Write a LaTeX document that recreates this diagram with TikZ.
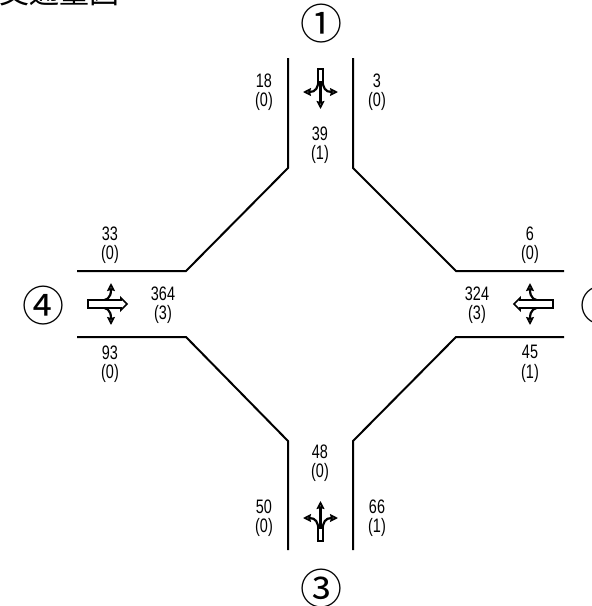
\documentclass[tikz,border=0pt]{standalone}
\usepackage{fontspec}
\usetikzlibrary{arrows.meta}
\newfontfamily\countfont[FakeStretch=0.74]{Liberation Sans}
\newfontfamily\cjkfont{Noto Sans CJK JP}
\tikzset{
  roadline/.style={line width=2pt, line join=miter},
  countlabel/.style={align=center, inner sep=0pt, font=\countfont\fontsize{19.5}{19.5}\selectfont},
  armlabel/.style={inner sep=0pt, font=\cjkfont\fontsize{42}{42}\selectfont},
  titlelabel/.style={anchor=base west, inner sep=0pt, font=\cjkfont\fontsize{30}{30}\selectfont},
  turnarrow/.style={line width=2.2pt, -{Stealth[length=8pt,width=8pt,inset=1pt,fill=white,line width=1.8pt]}},
  lanebox/.style={line width=1.7pt, fill=white, line join=miter},
  % origin at the tail of the mark, pointing along +x
  lanethin/.pic={
    \draw[turnarrow] (12,0) -- (40,0);
    \draw[turnarrow] (10,2) .. controls (19,2) and (23,5) .. (23,17.5);
    \draw[turnarrow] (10,-2) .. controls (19,-2) and (23,-5) .. (23,-17.5);
    \draw[lanebox] (0,-2.7) rectangle (13,2.7);
  },
  lanewide/.pic={
    \draw[turnarrow] (10,3) .. controls (19,3) and (23,6) .. (23,21);
    \draw[turnarrow] (10,-3) .. controls (19,-3) and (23,-6) .. (23,-21);
    \draw[lanebox] (0,-4) -- (33,-4) -- (33,-6) -- (39,0) -- (33,6) -- (33,4) -- (0,4) -- cycle;
  },
}
\begin{document}
\begin{tikzpicture}[x=1pt, y=-1pt]
  \useasboundingbox (0,0) rectangle (592,606);

  \node[titlelabel] (title) at (-1,3) {交通量図};

  % road edges
  \draw[roadline] (288,58) -- (288,168) -- (186,271) -- (77,271);
  \draw[roadline] (353,58) -- (353,168) -- (456,271) -- (564,271);
  \draw[roadline] (77,337) -- (186,337) -- (288,441) -- (288,550);
  \draw[roadline] (564,337) -- (456,337) -- (353,441) -- (353,550);

  % arm numbers
  \node[armlabel] (arm1) at (321,24) {①};
  \node[armlabel] (arm2) at (601,306) {②};
  \node[armlabel] (arm3) at (321,589) {③};
  \node[armlabel] (arm4) at (43,306) {④};

  % lane marks
  \pic[rotate=-90] at (320.5,69) {lanethin};
  \pic[rotate=90] at (320.5,541) {lanethin};
  \pic at (88,304) {lanewide};
  \pic[rotate=180] at (553,304) {lanewide};

  % counts
  \node[countlabel] (northleft) at (264,92) {18\\(0)};
  \node[countlabel] (northright) at (377,92) {3\\(0)};
  \node[countlabel] (northin) at (320,145) {39\\(1)};
  \node[countlabel] (westtop) at (110,245) {33\\(0)};
  \node[countlabel] (easttop) at (530,245) {6\\(0)};
  \node[countlabel] (westin) at (163,305) {364\\(3)};
  \node[countlabel] (eastin) at (477,305) {324\\(3)};
  \node[countlabel] (westbottom) at (110,364) {93\\(0)};
  \node[countlabel] (eastbottom) at (530,364) {45\\(1)};
  \node[countlabel] (southin) at (320,463) {48\\(0)};
  \node[countlabel] (southleft) at (264,518) {50\\(0)};
  \node[countlabel] (southright) at (377,518) {66\\(1)};
\end{tikzpicture}
\end{document}
